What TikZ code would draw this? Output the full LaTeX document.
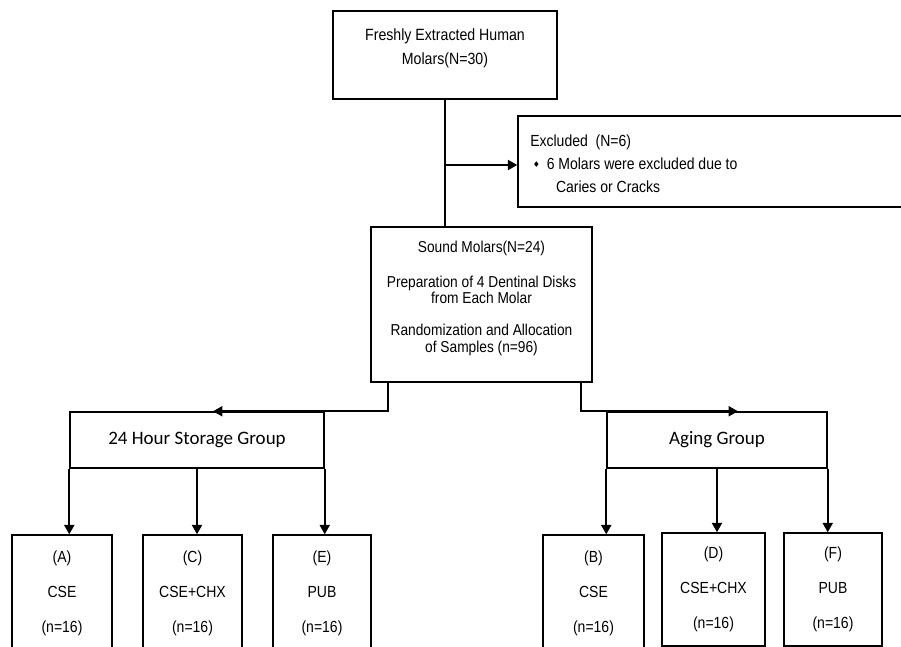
\documentclass[tikz,border=0pt]{standalone}
\usepackage{fontspec}
\setmainfont{Liberation Sans}[FakeStretch=0.87]
\newfontfamily\grpfont{Carlito}
\newfontfamily\symfont{DejaVu Sans}
\usetikzlibrary{arrows.meta}
\tikzstyle{box} = [draw, rectangle, line width=1.1pt, inner sep=0pt]
\tikzstyle{leaf} = [box, align=center, font=\fontsize{12.07}{26.25}\selectfont]
\tikzstyle{grp} = [box, font=\grpfont\fontsize{14.25}{17}\selectfont]
\tikzstyle{line} = [line width=1.4pt]
\tikzstyle{arr} = [line, -{Triangle[length=7pt,width=7.5pt]}]

\begin{document}
\begin{tikzpicture}[x=0.75pt, y=-0.75pt]
    \useasboundingbox (0,0) rectangle (901,647);
    % boxes of the upper part
    \node (fresh) [box, minimum width=168pt, minimum height=66pt] at (445,55) {};
    \node (freshtxt) [align=center, font=\fontsize{12.2}{18}\selectfont] at (445,48)
        {Freshly Extracted Human\\Molars(N=30)};
    \node (excl) [box, minimum width=290.25pt, minimum height=68.25pt] at (711.5,161.5) {};
    \node (excltxt) [anchor=west, align=left, inner sep=0pt, font=\fontsize{12.07}{17.25}\selectfont] at (530,164)
        {Excluded\ \ (N=6)\\
         \hspace*{2pt}{\symfont\fontsize{6}{6}\selectfont\raisebox{1.5pt}{♦}}\hspace*{5pt}6 Molars were excluded due to\\
         \hspace*{19.3pt}Caries or Cracks};
    \node (sound) [box, minimum width=165.75pt, minimum height=116.25pt] at (481.5,304.5) {};
    \node (soundtxt) [align=center, font=\fontsize{11.84}{12.5}\selectfont] at (481.5,298.5)
        {Sound Molars(N=24)\\[13.5pt]
         Preparation of 4 Dentinal Disks\\from Each Molar\\[11.5pt]
         Randomization and Allocation\\of Samples (n=96)};
    % the two groups
    \node (storage) [grp, minimum width=190.5pt, minimum height=42pt] at (197,440) {24 Hour Storage Group};
    \node (aging) [grp, minimum width=165pt, minimum height=42pt] at (717,440) {Aging Group};
    % the six subgroups
    \node (boxA) [leaf, minimum width=75pt, minimum height=87.75pt] at (62,593.5) {(A)\\CSE\\(n=16)};
    \node (boxC) [leaf, minimum width=74.25pt, minimum height=87.75pt] at (192.5,593.5) {(C)\\CSE+CHX\\(n=16)};
    \node (boxE) [leaf, minimum width=73.5pt, minimum height=87.75pt] at (322,593.5) {(E)\\PUB\\(n=16)};
    \node (boxB) [leaf, minimum width=75.75pt, minimum height=87.75pt] at (593.5,593.5) {(B)\\CSE\\(n=16)};
    \node (boxD) [leaf, minimum width=77.25pt, minimum height=84.75pt] at (713.5,589.5) {(D)\\CSE+CHX\\(n=16)};
    \node (boxF) [leaf, minimum width=73.5pt, minimum height=84.75pt] at (833,589.5) {(F)\\PUB\\(n=16)};
    \coordinate (branch) at (445,165);
    \draw [line] (fresh.south) -- (fresh.south |- sound.north);
    \draw [arr] (branch) -- (branch -| excl.west);
    \draw [line] ([xshift=13.5pt]sound.south west) |- (storage.north east);
    \draw [arr] (storage.north east) -- ([xshift=12pt]storage.north);
    \draw [line] ([xshift=-9pt]sound.south east) |- (aging.north west);
    \draw [arr] (aging.north west) -- ([xshift=15.75pt]aging.north);
    \draw [arr] (storage.south west) -- (storage.south west |- boxA.north);
    \draw [arr] (storage.south) -- (storage.south |- boxC.north);
    \draw [arr] (storage.south east) -- (storage.south east |- boxE.north);
    \draw [arr] (aging.south west) -- (aging.south west |- boxB.north);
    \draw [arr] (aging.south) -- (aging.south |- boxD.north);
    \draw [arr] (aging.south east) -- (aging.south east |- boxF.north);
\end{tikzpicture}
\end{document}
